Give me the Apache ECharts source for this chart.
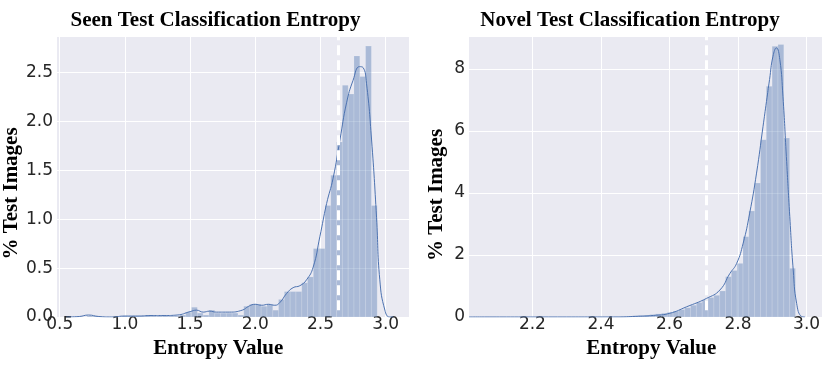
<!DOCTYPE html>
<html>
<head>
<meta charset="utf-8">
<script src="https://cdn.jsdelivr.net/npm/echarts@6/dist/echarts.min.js"></script>
<style>
  html, body { margin: 0; padding: 0; background: #fff; }
  #main { width: 831px; height: 368px; }
</style>
</head>
<body>
<div id="main"></div>
<script>
// seen test entropy histogram (50 bins)
var seenBinStart = 0.71;
var seenBinWidth = 0.0445;
var seenHeights = [
  0.01, 0.01, 0.0, 0.0, 0.0, 0.0, 0.01, 0.01, 0.01, 0.01,
  0.02, 0.01, 0.01, 0.01, 0.01, 0.01, 0.02, 0.05, 0.10, 0.04,
  0.02, 0.07, 0.04, 0.04, 0.04, 0.04, 0.02, 0.11, 0.13, 0.13,
  0.11, 0.13, 0.07, 0.18, 0.26, 0.26, 0.26, 0.35, 0.41, 0.70,
  0.70, 1.14, 1.45, 1.79, 2.37, 2.28, 2.67, 2.46, 2.77, 1.14
];
var seenKdeX = [0.55, 0.65, 0.72, 0.8, 0.9, 1.0, 1.1, 1.2, 1.3, 1.4, 1.5, 1.55, 1.6, 1.65, 1.7, 1.8, 1.9, 1.95, 2.0, 2.05, 2.1, 2.15, 2.19, 2.24, 2.29, 2.342, 2.393, 2.444, 2.495, 2.547, 2.597, 2.649, 2.70, 2.75, 2.80, 2.827, 2.853, 2.892, 2.93, 2.955, 2.994, 3.03, 3.06];
var seenKdeY = [0.0, 0.005, 0.02, 0.005, 0.0, 0.01, 0.01, 0.015, 0.015, 0.02, 0.055, 0.07, 0.05, 0.06, 0.05, 0.05, 0.07, 0.11, 0.13, 0.12, 0.13, 0.12, 0.15, 0.24, 0.30, 0.32, 0.38, 0.51, 0.82, 1.16, 1.42, 1.81, 2.19, 2.42, 2.56, 2.55, 2.39, 1.81, 1.02, 0.38, 0.07, 0.0, 0.0];
var seenThreshold = 2.635;

// novel test entropy histogram (50 bins)
var novelBinStart = 2.1175;
var novelBinWidth = 0.017;
var novelHeights = [
  0, 0, 0, 0, 0, 0, 0, 0, 0, 0,
  0, 0, 0, 0, 0.002, 0.003, 0.005, 0.005, 0.008, 0.01,
  0.02, 0.03, 0.04, 0.05, 0.06, 0.08, 0.10, 0.12, 0.15, 0.19,
  0.24, 0.30, 0.38, 0.47, 0.55, 0.63, 0.70, 0.84, 1.30, 1.50,
  1.73, 2.59, 3.42, 4.32, 5.72, 7.44, 8.73, 8.79, 5.77, 1.57
];
var novelKdeX = [2.015, 2.3, 2.45, 2.5, 2.553, 2.601, 2.65, 2.708, 2.747, 2.776, 2.796, 2.815, 2.834, 2.854, 2.873, 2.883, 2.892, 2.902, 2.912, 2.922, 2.931, 2.941, 2.951, 2.961, 2.971, 2.985, 2.995];
var novelKdeY = [0, 0, 0.0, 0.02, 0.05, 0.12, 0.33, 0.60, 0.87, 1.40, 1.73, 2.38, 3.35, 4.64, 6.15, 6.95, 7.66, 8.41, 8.68, 8.30, 7.12, 5.18, 3.24, 1.52, 0.44, 0.02, 0];
var novelThreshold = 2.707;

var barFill = "rgba(76,114,176,0.4)";
var lineColor = "#4c72b0";
var tickFont = "DejaVu Sans";
var labelFont = "Liberation Serif";

function bins(start, width, heights) {
  return heights.map(function (h, i) {
    return [start + i * width, start + (i + 1) * width, h];
  });
}
function pairs(xs, ys) {
  return xs.map(function (x, i) { return [x, ys[i]]; });
}
function histItem(params, api) {
  var p0 = api.coord([api.value(0), 0]);
  var p1 = api.coord([api.value(1), api.value(2)]);
  return {
    type: "rect",
    shape: { x: p0[0], y: p1[1], width: p1[0] - p0[0], height: p0[1] - p1[1] },
    style: { fill: barFill, stroke: "rgba(255,255,255,0.3)", lineWidth: 0.5 }
  };
}
function xAxisOf(idx, min, max) {
  return {
    gridIndex: idx, type: "value", min: min, max: max,
    axisLine: { show: false }, axisTick: { show: false },
    axisLabel: {
      color: "#262626", fontFamily: tickFont, fontSize: 17, margin: -1, showMinLabel: false, showMaxLabel: false,
      formatter: function (v) { return v.toFixed(1); }
    },
    splitLine: { show: true, showMinLine: false, showMaxLine: false, lineStyle: { color: "#fff", width: 1 } }
  };
}
function yAxisOf(idx, max, digits) {
  return {
    gridIndex: idx, type: "value", min: 0, max: max,
    axisLine: { show: false }, axisTick: { show: false },
    axisLabel: {
      color: "#262626", fontFamily: tickFont, fontSize: 17, margin: 4, showMaxLabel: false,
      formatter: function (v) { return v.toFixed(digits); }
    },
    splitLine: { show: true, showMaxLine: false, lineStyle: { color: "#fff", width: 1 } }
  };
}
function dashed(idx, x, y0, y1) {
  return {
    type: "line", xAxisIndex: idx, yAxisIndex: idx, data: [], z: 5, silent: true,
    markLine: {
      silent: true, symbol: ["none", "none"], label: { show: false },
      lineStyle: { color: "#fff", type: [10, 5], width: 3, opacity: 1 },
      emphasis: { disabled: true },
      data: [[{ coord: [x, y0] }, { coord: [x, y1] }]]
    }
  };
}
function text(str, x, y, rot) {
  return {
    type: "text", x: x, y: y, rotation: rot || 0,
    style: {
      text: str, fill: "#000", font: "bold 21px '" + labelFont + "'",
      align: "center", verticalAlign: "middle",
      textAlign: "center", textVerticalAlign: "middle"
    }
  };
}

var chart = echarts.init(document.getElementById("main"));
chart.setOption({
  animation: false,
  grid: [
    { left: 57, top: 37, width: 352, height: 280, show: true, backgroundColor: "#eaeaf2", borderWidth: 0 },
    { left: 469, top: 37, width: 353, height: 280, show: true, backgroundColor: "#eaeaf2", borderWidth: 0 }
  ],
  xAxis: [xAxisOf(0, 0.479, 3.179), xAxisOf(1, 2.015, 3.045)],
  yAxis: [yAxisOf(0, 2.863, 1), yAxisOf(1, 9.03, 0)],
  graphic: [
    text("Seen Test Classification Entropy", 215.5, 21),
    text("Novel Test Classification Entropy", 630, 21),
    text("Entropy Value", 218.3, 349),
    text("Entropy Value", 651.3, 349),
    text("% Test Images", 11.3, 193.5, Math.PI / 2),
    text("% Test Images", 436.5, 195, Math.PI / 2)
  ],
  series: [
    {
      type: "custom", xAxisIndex: 0, yAxisIndex: 0, renderItem: histItem,
      encode: { x: [0, 1], y: 2 }, data: bins(seenBinStart, seenBinWidth, seenHeights), z: 2
    },
    {
      type: "line", xAxisIndex: 0, yAxisIndex: 0, smooth: true, showSymbol: false, z: 4,
      lineStyle: { color: lineColor, width: 1 }, data: pairs(seenKdeX, seenKdeY)
    },
    dashed(0, seenThreshold, 0.07, 2.863),
    {
      type: "custom", xAxisIndex: 1, yAxisIndex: 1, renderItem: histItem,
      encode: { x: [0, 1], y: 2 }, data: bins(novelBinStart, novelBinWidth, novelHeights), z: 2
    },
    {
      type: "line", xAxisIndex: 1, yAxisIndex: 1, smooth: true, showSymbol: false, z: 4,
      lineStyle: { color: lineColor, width: 1 }, data: pairs(novelKdeX, novelKdeY)
    },
    dashed(1, novelThreshold, 0.22, 9.03)
  ]
});
</script>
</body>
</html>
